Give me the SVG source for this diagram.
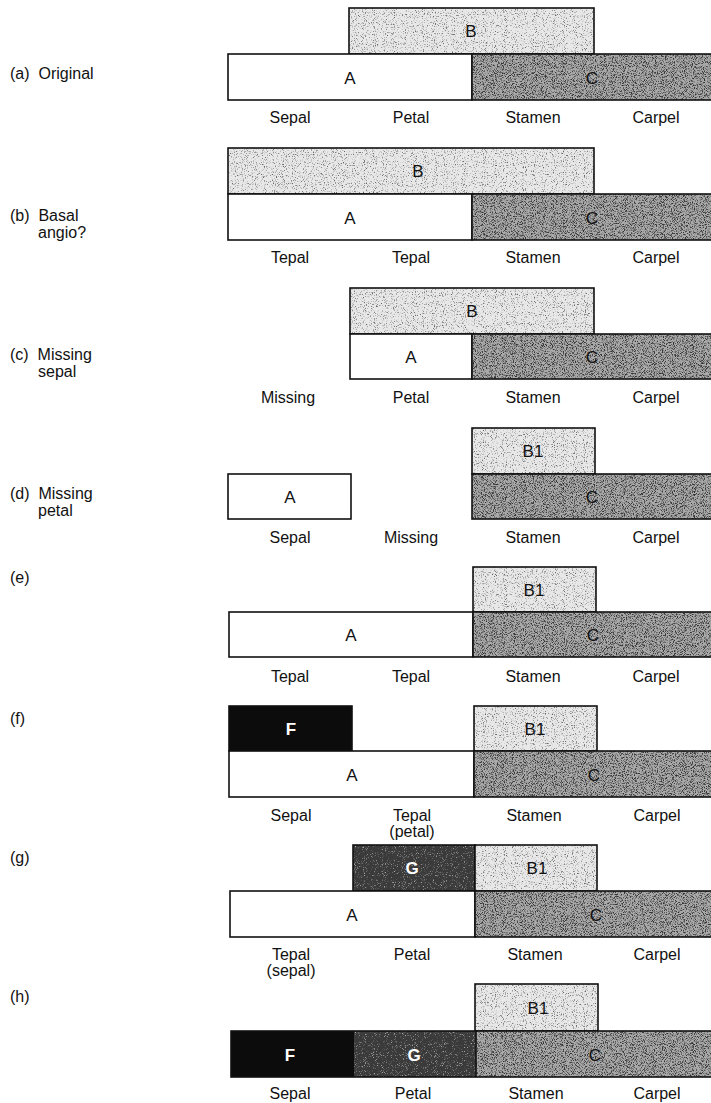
<svg xmlns="http://www.w3.org/2000/svg" width="711" height="1103" viewBox="0 0 711 1103">
<defs>
<filter id="stipB" x="0" y="0" width="1" height="1" color-interpolation-filters="sRGB">
<feTurbulence type="fractalNoise" baseFrequency="0.9" numOctaves="2" seed="4" result="n"/>
<feColorMatrix in="n" type="matrix" values="0 0 0 0 0 0 0 0 0 0 0 0 0 0 0 4 0 0 0 -2.2" result="a"/>
<feFlood flood-color="#666"/>
<feComposite in2="a" operator="in" result="dots"/>
<feMerge><feMergeNode in="SourceGraphic"/><feMergeNode in="dots"/></feMerge>
<feComposite in2="SourceAlpha" operator="in"/>
</filter>
<filter id="stipC" x="0" y="0" width="1" height="1" color-interpolation-filters="sRGB">
<feTurbulence type="fractalNoise" baseFrequency="1.1" numOctaves="2" seed="9" result="n"/>
<feColorMatrix in="n" type="matrix" values="0 0 0 0 0 0 0 0 0 0 0 0 0 0 0 4 0 0 0 -1.85" result="a"/>
<feFlood flood-color="#333"/>
<feComposite in2="a" operator="in" result="dots"/>
<feMerge><feMergeNode in="SourceGraphic"/><feMergeNode in="dots"/></feMerge>
<feComposite in2="SourceAlpha" operator="in"/>
</filter>
<filter id="stipG" x="0" y="0" width="1" height="1" color-interpolation-filters="sRGB">
<feTurbulence type="fractalNoise" baseFrequency="1.1" numOctaves="2" seed="2" result="n"/>
<feColorMatrix in="n" type="matrix" values="0 0 0 0 0 0 0 0 0 0 0 0 0 0 0 -4 0 0 0 1.7" result="a"/>
<feFlood flood-color="#aaa"/>
<feComposite in2="a" operator="in" result="dots"/>
<feMerge><feMergeNode in="SourceGraphic"/><feMergeNode in="dots"/></feMerge>
<feComposite in2="SourceAlpha" operator="in"/>
</filter>
</defs>
<style>
text{font-family:"Liberation Sans",Arial,sans-serif;fill:#111;white-space:pre}
.t{font-size:16px}
.l{font-size:16px;text-anchor:middle}
.bl{font-size:17px;text-anchor:middle}
.w{fill:#fff;font-weight:bold}
.A{fill:#fff}
.B{fill:#e8e8e8;filter:url(#stipB)}
.C{fill:#aaaaaa;filter:url(#stipC)}
.G{fill:#3a3a3a;filter:url(#stipG)}
.F{fill:#0c0c0c}
.o{fill:none;stroke:#111;stroke-width:1.6}
</style>

<g id="row-a">
<text class="t" x="10" y="79" xml:space="preserve">(a)  Original</text>
<rect class="B" x="349" y="8" width="245" height="46"/><rect class="o" x="349" y="8" width="245" height="46"/>
<rect class="A" x="228" y="54" width="244" height="46"/><rect class="o" x="228" y="54" width="244" height="46"/>
<rect class="C" x="472" y="54" width="242" height="46"/><rect class="o" x="472" y="54" width="242" height="46"/>
<text class="bl" x="471" y="37">B</text>
<text class="bl" x="350" y="84">A</text>
<text class="bl" x="592" y="84">C</text>
<text class="l" x="290" y="123">Sepal</text>
<text class="l" x="411" y="123">Petal</text>
<text class="l" x="533" y="123">Stamen</text>
<text class="l" x="656" y="123">Carpel</text>
</g>

<g id="row-b">
<text class="t" x="10" y="221" xml:space="preserve">(b)  Basal</text>
<text class="t" x="38" y="238">angio?</text>
<rect class="B" x="228" y="148" width="366" height="46"/><rect class="o" x="228" y="148" width="366" height="46"/>
<rect class="A" x="228" y="194" width="244" height="46"/><rect class="o" x="228" y="194" width="244" height="46"/>
<rect class="C" x="472" y="194" width="242" height="46"/><rect class="o" x="472" y="194" width="242" height="46"/>
<text class="bl" x="418" y="177">B</text>
<text class="bl" x="350" y="224">A</text>
<text class="bl" x="592" y="224">C</text>
<text class="l" x="290" y="263">Tepal</text>
<text class="l" x="411" y="263">Tepal</text>
<text class="l" x="533" y="263">Stamen</text>
<text class="l" x="656" y="263">Carpel</text>
</g>

<g id="row-c">
<text class="t" x="10" y="360" xml:space="preserve">(c)  Missing</text>
<text class="t" x="38" y="377">sepal</text>
<rect class="B" x="350" y="288" width="244" height="46"/><rect class="o" x="350" y="288" width="244" height="46"/>
<rect class="A" x="350" y="334" width="122" height="45"/><rect class="o" x="350" y="334" width="122" height="45"/>
<rect class="C" x="472" y="334" width="242" height="45"/><rect class="o" x="472" y="334" width="242" height="45"/>
<text class="bl" x="472" y="317">B</text>
<text class="bl" x="411" y="363">A</text>
<text class="bl" x="592" y="363">C</text>
<text class="l" x="288" y="403">Missing</text>
<text class="l" x="411" y="403">Petal</text>
<text class="l" x="533" y="403">Stamen</text>
<text class="l" x="656" y="403">Carpel</text>
</g>

<g id="row-d">
<text class="t" x="10" y="499" xml:space="preserve">(d)  Missing</text>
<text class="t" x="38" y="516">petal</text>
<rect class="B" x="472" y="428" width="123" height="46"/><rect class="o" x="472" y="428" width="123" height="46"/>
<rect class="A" x="228" y="474" width="123" height="45"/><rect class="o" x="228" y="474" width="123" height="45"/>
<rect class="C" x="472" y="474" width="242" height="45"/><rect class="o" x="472" y="474" width="242" height="45"/>
<text class="bl" x="533" y="457">B1</text>
<text class="bl" x="290" y="503">A</text>
<text class="bl" x="592" y="503">C</text>
<text class="l" x="290" y="543">Sepal</text>
<text class="l" x="411" y="543">Missing</text>
<text class="l" x="533" y="543">Stamen</text>
<text class="l" x="656" y="543">Carpel</text>
</g>

<g id="row-e">
<text class="t" x="10" y="583">(e)</text>
<rect class="B" x="473" y="567" width="123" height="45"/><rect class="o" x="473" y="567" width="123" height="45"/>
<rect class="A" x="229" y="612" width="244" height="45"/><rect class="o" x="229" y="612" width="244" height="45"/>
<rect class="C" x="473" y="612" width="241" height="45"/><rect class="o" x="473" y="612" width="241" height="45"/>
<text class="bl" x="534" y="596">B1</text>
<text class="bl" x="351" y="641">A</text>
<text class="bl" x="593" y="641">C</text>
<text class="l" x="290" y="682">Tepal</text>
<text class="l" x="411" y="682">Tepal</text>
<text class="l" x="533" y="682">Stamen</text>
<text class="l" x="656" y="682">Carpel</text>
</g>

<g id="row-f">
<text class="t" x="10" y="724">(f)</text>
<rect class="F" x="229" y="706" width="123" height="45"/><rect class="o" x="229" y="706" width="123" height="45"/>
<rect class="B" x="474" y="706" width="123" height="45"/><rect class="o" x="474" y="706" width="123" height="45"/>
<rect class="A" x="229" y="751" width="245" height="46"/><rect class="o" x="229" y="751" width="245" height="46"/>
<rect class="C" x="474" y="751" width="240" height="46"/><rect class="o" x="474" y="751" width="240" height="46"/>
<text class="bl w" x="291" y="735">F</text>
<text class="bl" x="535" y="735">B1</text>
<text class="bl" x="352" y="781">A</text>
<text class="bl" x="594" y="781">C</text>
<text class="l" x="291" y="821">Sepal</text>
<text class="l" x="412" y="821">Tepal</text>
<text class="l" x="412" y="837">(petal)</text>
<text class="l" x="534" y="821">Stamen</text>
<text class="l" x="657" y="821">Carpel</text>
</g>

<g id="row-g">
<text class="t" x="10" y="863">(g)</text>
<rect class="G" x="353" y="845" width="122" height="46"/><rect class="o" x="353" y="845" width="122" height="46"/>
<rect class="B" x="475" y="845" width="122" height="46"/><rect class="o" x="475" y="845" width="122" height="46"/>
<rect class="A" x="230" y="891" width="245" height="46"/><rect class="o" x="230" y="891" width="245" height="46"/>
<rect class="C" x="475" y="891" width="239" height="46"/><rect class="o" x="475" y="891" width="239" height="46"/>
<text class="bl w" x="412" y="874">G</text>
<text class="bl" x="537" y="874">B1</text>
<text class="bl" x="352" y="921">A</text>
<text class="bl" x="596" y="921">C</text>
<text class="l" x="291" y="960">Tepal</text>
<text class="l" x="291" y="976">(sepal)</text>
<text class="l" x="412" y="960">Petal</text>
<text class="l" x="535" y="960">Stamen</text>
<text class="l" x="657" y="960">Carpel</text>
</g>

<g id="row-h">
<text class="t" x="10" y="1002">(h)</text>
<rect class="B" x="475" y="984" width="123" height="47"/><rect class="o" x="475" y="984" width="123" height="47"/>
<rect class="F" x="231" y="1031" width="123" height="46"/>
<rect class="G" x="354" y="1031" width="122" height="46"/>
<rect class="C" x="476" y="1031" width="238" height="46"/>
<rect class="o" x="231" y="1031" width="483" height="46"/>
<line class="o" x1="476" y1="1031" x2="476" y2="1077"/>
<text class="bl" x="538" y="1014">B1</text>
<text class="bl w" x="290" y="1061">F</text>
<text class="bl w" x="414" y="1061">G</text>
<text class="bl" x="595" y="1061">C</text>
<text class="l" x="290" y="1099">Sepal</text>
<text class="l" x="413" y="1099">Petal</text>
<text class="l" x="536" y="1099">Stamen</text>
<text class="l" x="657" y="1099">Carpel</text>
</g>
</svg>
